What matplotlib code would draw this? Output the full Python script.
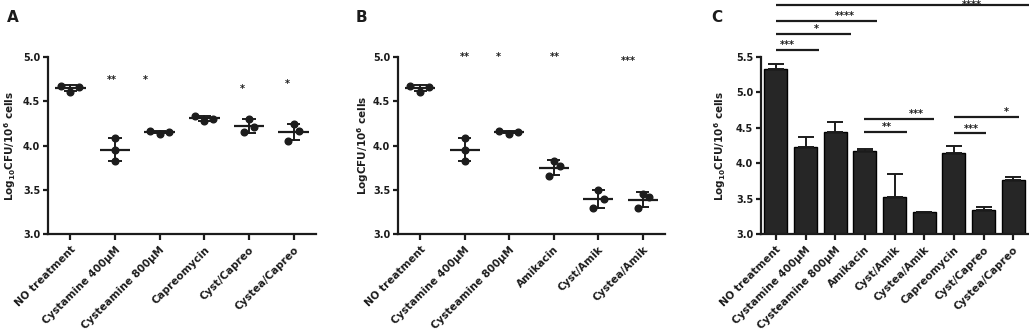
import numpy as np
import matplotlib
matplotlib.use("Agg")
import matplotlib.pyplot as plt

plt.rcParams['font.family'] = ['DejaVu Sans']
plt.rcParams['font.weight'] = 'bold'
plt.rcParams['mathtext.fontset'] = 'dejavusans'
plt.rcParams['mathtext.default'] = 'bf'

# ---------------- data ----------------
A_labels = ["NO treatment", "Cystamine 400\u03bcM", "Cysteamine 800\u03bcM",
            "Capreomycin", "Cyst/Capreo", "Cystea/Capreo"]
A_points = [[4.675, 4.607, 4.657],
            [4.086, 3.947, 3.822],
            [4.165, 4.135, 4.155],
            [4.335, 4.280, 4.305],
            [4.298, 4.210, 4.147],
            [4.238, 4.162, 4.052]]
A_sig = ["", "**", "*", "", "*", "*"]
A_sig_y = [np.nan, 4.74, 4.74, np.nan, 4.64, 4.69]

B_labels = ["NO treatment", "Cystamine 400\u03bcM", "Cysteamine 800\u03bcM",
            "Amikacin", "Cyst/Amik", "Cystea/Amik"]
B_points = [[4.675, 4.607, 4.657],
            [4.086, 3.947, 3.822],
            [4.165, 4.135, 4.155],
            [3.822, 3.769, 3.656],
            [3.502, 3.392, 3.293],
            [3.449, 3.420, 3.293]]
B_sig = ["", "**", "*", "**", "", "***"]
B_sig_y = [np.nan, 5.0, 5.0, 5.0, np.nan, 4.95]

C_labels = ["NO treatment", "Cystamine 400\u03bcM", "Cysteamine 800\u03bcM",
            "Amikacin", "Cyst/Amik", "Cystea/Amik", "Capreomycin",
            "Cyst/Capreo", "Cystea/Capreo"]
C_means = [5.336, 4.234, 4.445, 4.178, 3.517, 3.311, 4.150, 3.334, 3.766]
C_err = [0.061, 0.132, 0.132, 0.022, 0.333, 0.0, 0.094, 0.046, 0.037]
C_brk_labels = ["***", "*", "****", "****", "**", "***", "***", "*"]
C_brk_y = [5.595, 5.825, 6.01, 6.24, 4.44, 4.63, 4.42, 4.65]

# ---------------- layout ----------------
W, H = 1029, 332
A_offsets = [[-0.22, 0, 0.2], [0, 0, 0], [-0.22, 0, 0.2],
             [-0.22, 0, 0.2], [0, 0.12, -0.12], [0, 0.12, -0.12]]
B_offsets = [[-0.22, 0, 0.2], [0, 0, 0], [-0.22, 0, 0.2],
             [0, 0.13, -0.11], [0, 0.12, -0.11], [0, 0.13, -0.11]]
A_sig_dx = [0, -0.07, -0.33, 0, -0.16, -0.14]
B_sig_dx = [0, 0.0, -0.25, 0.02, 0, -0.32]
C_brk_x0 = [0, 0, 0, 0, 2.96, 2.96, 5.99, 5.99]
C_brk_x1 = [1.45, 2.53, 3.40, 8.7, 4.41, 5.32, 7.07, 8.18]
C_lab_x = [0.40, 1.35, 2.32, 6.6, 3.73, 4.75, 6.6, 7.77]
C_lab_dy = [0.07, 0.07, 0.07, -0.005, 0.07, 0.07, 0.07, 0.07]

INK = '#1c1c1c'
SP_LW = 1.6

fig = plt.figure(figsize=(W / 100, H / 100), dpi=100)


def px_axes(x0, x1, ytop, ybot):
    return fig.add_axes([x0 / W, 1 - ybot / H, (x1 - x0) / W, (ybot - ytop) / H])


def style(ax, labels, yticks):
    for s in ['top', 'right']:
        ax.spines[s].set_visible(False)
    for s in ['left', 'bottom']:
        ax.spines[s].set_linewidth(SP_LW)
        ax.spines[s].set_color(INK)
    ax.set_xticks(range(len(labels)))
    ax.set_xticklabels(labels, rotation=45, ha='right', rotation_mode='anchor',
                       fontsize=7.5, fontweight='bold', color=INK)
    ax.set_yticks(yticks)
    ax.set_yticklabels([f"{v:.1f}" for v in yticks], fontsize=7, fontweight='bold', color=INK)
    ax.tick_params(axis='x', length=4.5, width=SP_LW, color=INK, pad=3)
    ax.tick_params(axis='y', length=3.5, width=SP_LW, color=INK, pad=2)


def scatter_panel(ax, labels, points, offsets, sig, sig_y, sig_dx):
    for i, (pts, offs) in enumerate(zip(points, offsets)):
        pts = np.array(pts)
        m = pts.mean()
        sd = pts.std(ddof=1)
        ax.plot([i - 0.34, i + 0.34], [m, m], color=INK, lw=1.6, solid_capstyle='butt', zorder=2)
        ax.plot([i, i], [m - sd, m + sd], color=INK, lw=1.4, zorder=2)
        for yy in (m - sd, m + sd):
            ax.plot([i - 0.15, i + 0.15], [yy, yy], color=INK, lw=1.4,
                    solid_capstyle='butt', zorder=2)
        ax.plot(np.array(offs) + i, pts, 'o', ms=4.8, color=INK, mec=INK, zorder=3)
        if sig[i]:
            ax.text(i + sig_dx[i], sig_y[i], sig[i], ha='center', va='center',
                    fontsize=7, fontweight='bold', color=INK, clip_on=False)
    ax.set_xlim(-0.5, len(labels) - 0.5)
    ax.set_ylim(3.0, 5.0)
    style(ax, labels, [3.0, 3.5, 4.0, 4.5, 5.0])


axA = px_axes(48, 316, 57, 234)
scatter_panel(axA, A_labels, A_points, A_offsets, A_sig, A_sig_y, A_sig_dx)

axB = px_axes(398, 665, 57, 234)
scatter_panel(axB, B_labels, B_points, B_offsets, B_sig, B_sig_y, B_sig_dx)

axC = px_axes(761, 1028, 57, 234)
x = np.arange(len(C_labels))
axC.bar(x, C_means, width=0.78, color='#262626', edgecolor='#000000', lw=1.0, zorder=2)
axC.errorbar(x, C_means, yerr=[np.zeros(len(C_err)), C_err], fmt='none',
             ecolor=INK, elinewidth=1.4, capsize=5.5, capthick=1.4, zorder=3)
axC.set_xlim(-0.5, len(C_labels) - 0.5)
axC.set_ylim(3.0, 5.5)
style(axC, C_labels, [3.0, 3.5, 4.0, 4.5, 5.0, 5.5])
for x0, x1, yy, lab, lx, dy in zip(C_brk_x0, C_brk_x1, C_brk_y, C_brk_labels, C_lab_x, C_lab_dy):
    axC.plot([x0, x1], [yy, yy], color=INK, lw=1.6, clip_on=False, solid_capstyle='butt')
    axC.text(lx, yy + dy, lab, ha='center', va='center', fontsize=7,
             fontweight='bold', color=INK, clip_on=False)

# y labels
ylab10 = r"Log$_{10}$CFU/10$^{6}$ cells"
ylabB = r"LogCFU/10$^{6}$ cells"
yc = 1 - 145.5 / H
fig.text(10 / W, yc, ylab10, rotation=90, ha='center', va='center', fontsize=7.5,
         fontweight='bold', color=INK)
fig.text(363 / W, yc, ylabB, rotation=90, ha='center', va='center', fontsize=7.5,
         fontweight='bold', color=INK)
fig.text(720 / W, yc, ylab10, rotation=90, ha='center', va='center', fontsize=7.5,
         fontweight='bold', color=INK)

# panel letters
for lx, lt in [(13, "A"), (361, "B"), (717, "C")]:
    fig.text(lx / W, 1 - 17 / H, lt, ha='center', va='center', fontsize=11,
             fontweight='bold', color=INK)

fig.savefig("out.png", dpi=100)
